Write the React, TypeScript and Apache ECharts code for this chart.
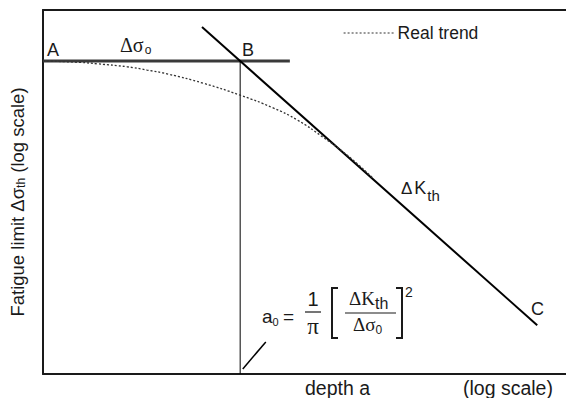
import React, { useEffect, useRef } from "react";
import * as echarts from "echarts";

// Data in log-space units (arbitrary decades): x = log depth, y = log fatigue limit
const plateauLevel = 8.6;
const plateauLine: [number, number][] = [[0, plateauLevel], [4.72, plateauLevel]];
const kthLine: [number, number][] = [[3.04, 9.53], [9.45, 1.34]];
const a0Line: [number, number][] = [[3.77, 0], [3.77, plateauLevel]];
const pointerLine: [number, number][] = [[3.82, 0.14], [4.26, 0.88]];
const realTrend: [number, number][] = [
  [0, 8.6], [0.71, 8.56], [1.05, 8.52], [1.61, 8.44], [1.99, 8.35], [2.39, 8.24],
  [3.06, 7.99], [3.77, 7.66], [4.4, 7.31], [4.86, 6.98], [5.35, 6.51], [5.81, 6.02],
  [6.3, 5.39],
];
const legendNames = ["Real trend"];
const xTitle = "depth a";
const xScaleNote = "(log scale)";

const SANS = "'Liberation Sans', Arial, Helvetica, sans-serif";
const SERIF = "'Liberation Serif', 'Times New Roman', serif";
const INK = "#1a1a1a";

let ctx: CanvasRenderingContext2D | null = null;
function measure(text: string, size: number, font: string) {
  if (!ctx) ctx = document.createElement("canvas").getContext("2d");
  if (!ctx) return text.length * size * 0.55;
  ctx.font = `${size}px ${font}`;
  return ctx.measureText(text).width;
}

type Piece = { t: string; size: number; font?: string; dy?: number; dx?: number };

// lays out consecutive text pieces (e.g. base + subscript) left to right from x
function chain(pieces: Piece[], x: number, y: number) {
  const out: any[] = [];
  let cx = x;
  for (const p of pieces) {
    const font = p.font || SANS;
    cx += p.dx || 0;
    out.push({
      type: "text",
      x: cx,
      y: y + (p.dy || 0),
      style: { text: p.t, fontSize: p.size, fontFamily: font, fill: INK, align: "left", verticalAlign: "middle" },
      silent: true,
    });
    cx += measure(p.t, p.size, font);
  }
  return { els: out, width: cx - x };
}

function txt(text: string, x: number, y: number, size: number, opts: any = {}) {
  return {
    type: "text",
    x,
    y,
    style: {
      text,
      fontSize: size,
      fontFamily: opts.font || SANS,
      fill: INK,
      align: opts.align || "left",
      verticalAlign: "middle",
    },
    silent: true,
  };
}

export default function App() {
  const ref = useRef<HTMLDivElement>(null);
  useEffect(() => {
    if (!ref.current) return;
    const chart = echarts.init(ref.current, undefined, { renderer: "svg" });
    const lineSeries = (name: string, data: [number, number][], style: any, smooth = false) => ({
      name,
      type: "line",
      data,
      symbol: "none",
      smooth,
      silent: true,
      lineStyle: style,
      itemStyle: { color: style.color },
      z: style.z || 2,
    });

    const yPieces: Piece[] = [
      { t: "Fatigue limit Δσ", size: 18.5 },
      { t: "th", size: 12, dy: 4 },
      { t: " (log scale)", size: 18.5 },
    ];
    const yChain = chain(yPieces, 0, 0);
    const yLabel = {
      type: "group",
      x: 17,
      y: 202,
      rotation: Math.PI / 2,
      children: chain(yPieces, -yChain.width / 2, 0).els,
    };

    chart.setOption({
      animation: false,
      backgroundColor: "#ffffff",
      grid: { left: 43, right: 0, top: 10, bottom: 24 },
      xAxis: [
        {
          type: "value", min: 0, max: 10, position: "bottom",
          axisLine: { show: true, onZero: false, lineStyle: { color: INK, width: 2 } },
          axisTick: { show: false }, axisLabel: { show: false }, splitLine: { show: false },
        },
        {
          type: "value", min: 0, max: 10, position: "top",
          axisLine: { show: true, onZero: false, lineStyle: { color: INK, width: 2 } },
          axisTick: { show: false }, axisLabel: { show: false }, splitLine: { show: false },
        },
      ],
      yAxis: {
        type: "value", min: 0, max: 10,
        axisLine: { show: true, onZero: false, lineStyle: { color: INK, width: 2 } },
        axisTick: { show: false }, axisLabel: { show: false }, splitLine: { show: false },
      },
      legend: {
        data: legendNames,
        left: 343,
        top: 24,
        padding: 0,
        itemWidth: 50,
        itemHeight: 18,
        itemGap: 10,
        selectedMode: false,
        itemStyle: { opacity: 0, borderWidth: 0 },
        lineStyle: { type: [2, 2], width: 1.2, color: "#333" },
        textStyle: { fontSize: 17.5, fontFamily: SANS, color: INK, padding: [0, 0, 0, -1] },
      },
      series: [
        lineSeries("plateau", plateauLine, { color: "#3a3a3a", width: 3 }),
        lineSeries("kth", kthLine, { color: "#000", width: 2, z: 3 }),
        lineSeries("a0", a0Line, { color: "#000", width: 1 }),
        lineSeries("pointer", pointerLine, { color: "#000", width: 1.5 }),
        lineSeries(legendNames[0], realTrend, { color: "#333", width: 1.3, type: [2, 2], z: 4 }, true),
      ],
      graphic: [
        txt("A", 47, 50, 18),
        ...chain([{ t: "Δσ", size: 20, font: SERIF }, { t: "o", size: 12, dy: 5, dx: 1 }], 120, 45).els,
        txt("B", 242, 50, 18),
        ...chain([{ t: "Δ", size: 17 }, { t: "K", size: 18, dx: 2 }, { t: "th", size: 15, dy: 7, dx: 1 }], 401, 188).els,
        txt("C", 531, 309, 18),
        // formula a0 = (1/π)[ΔKth/Δσ0]^2
        ...chain([{ t: "a", size: 19 }, { t: "0", size: 11, dy: 6 }, { t: " =", size: 19, dx: -1 }], 262, 316).els,
        txt("1", 313, 299, 20, { align: "center" }),
        { type: "line", shape: { x1: 305, y1: 312, x2: 321, y2: 312 }, style: { stroke: INK, lineWidth: 1.2 }, silent: true },
        txt("π", 313, 326, 23, { font: SERIF, align: "center" }),
        { type: "polyline", shape: { points: [[338, 288], [332, 288], [332, 338], [338, 338]] }, style: { stroke: INK, lineWidth: 2, fill: null }, silent: true },
        ...chain([{ t: "ΔK", size: 19, font: SERIF }, { t: "th", size: 16, dy: 5 }], 349, 298).els,
        { type: "line", shape: { x1: 345, y1: 313, x2: 396, y2: 313 }, style: { stroke: INK, lineWidth: 1.2 }, silent: true },
        ...chain([{ t: "Δσ", size: 19, font: SERIF }, { t: "0", size: 12, dy: 6 }], 353, 324).els,
        { type: "polyline", shape: { points: [[396, 288], [402, 288], [402, 338], [396, 338]] }, style: { stroke: INK, lineWidth: 2, fill: null }, silent: true },
        txt("2", 405, 292, 14),
        // axis titles
        txt(xTitle, 305, 388, 19.5),
        txt(xScaleNote, 463, 388, 19.5),
        yLabel,
      ],
    });
    return () => chart.dispose();
  }, []);
  return <div ref={ref} style={{ position: "absolute", left: 0, top: 0, width: 566, height: 398 }} />;
}
